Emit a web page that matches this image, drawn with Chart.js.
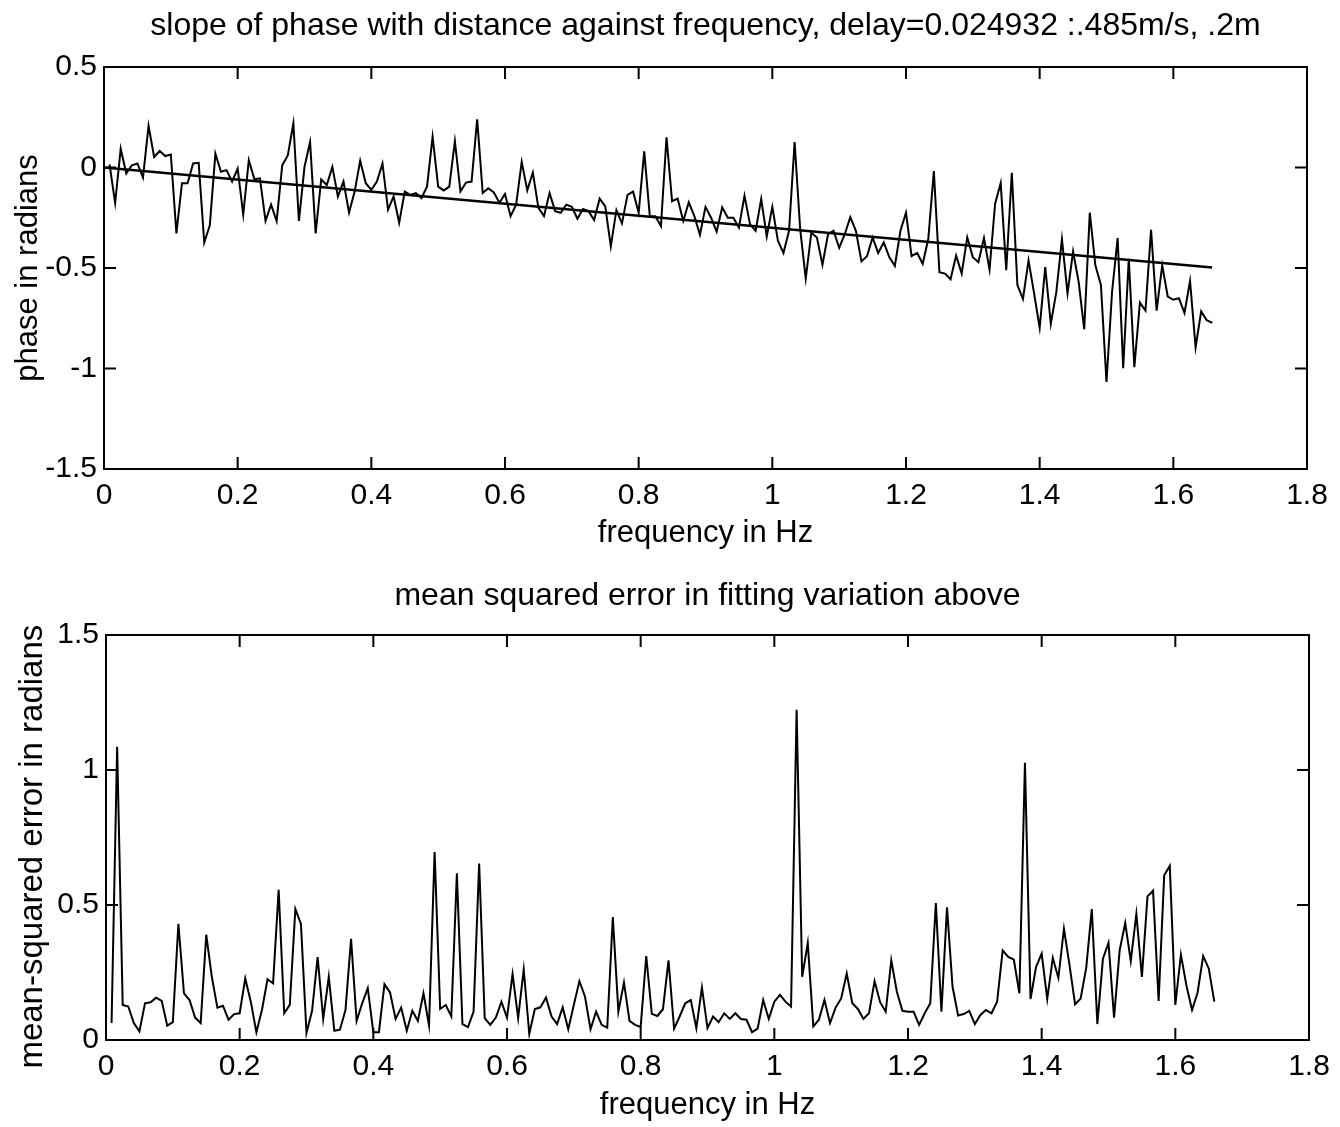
<!DOCTYPE html>
<html>
<head>
<meta charset="utf-8">
<script src="https://cdn.jsdelivr.net/npm/chart.js@4.4.0/dist/chart.umd.min.js"></script>
<style>
html, body { margin: 0; padding: 0; background: #fff; }
.plot { position: absolute; left: 0; width: 1340px; }
#top-plot { top: 0; height: 563px; }
#bottom-plot { top: 563px; height: 564px; }
</style>
</head>
<body>
<div class="plot" id="top-plot"><canvas id="phaseChart"></canvas></div>
<div class="plot" id="bottom-plot"><canvas id="mseChart"></canvas></div>
<script>
// frequency bins are spaced 1/120 Hz, first bin at 1/120
const freqStep = 1 / 120;

// phase (radians)
const phaseRad = [
  0.015, -0.176, 0.093, -0.03, 0.011, 0.02, -0.05, 0.207, 0.052, 0.082,
  0.057, 0.065, -0.328, -0.078, -0.078, 0.02, 0.023, -0.373, -0.288, 0.069,
  -0.021, -0.013, -0.07, -0.005, -0.234, 0.036, -0.059, -0.054, -0.266, -0.185,
  -0.266, 0.011, 0.06, 0.219, -0.266, 0.003, 0.126, -0.328, -0.059, -0.087,
  0.003, -0.144, -0.07, -0.225, -0.12, 0.033, -0.078, -0.111, -0.07, 0.02,
  -0.21, -0.144, -0.275, -0.12, -0.136, -0.127, -0.152, -0.095, 0.153, -0.095,
  -0.114, -0.095, 0.131, -0.12, -0.075, -0.07, 0.24, -0.127, -0.103, -0.124,
  -0.176, -0.132, -0.242, -0.185, 0.028, -0.114, -0.025, -0.201, -0.242, -0.127,
  -0.217, -0.225, -0.185, -0.196, -0.255, -0.206, -0.217, -0.261, -0.155, -0.193,
  -0.392, -0.212, -0.278, -0.136, -0.12, -0.225, 0.08, -0.242, -0.242, -0.291,
  0.15, -0.168, -0.155, -0.266, -0.173, -0.242, -0.335, -0.196, -0.25, -0.319,
  -0.198, -0.25, -0.25, -0.299, -0.141, -0.283, -0.315, -0.157, -0.343, -0.196,
  -0.364, -0.425, -0.315, 0.126, -0.307, -0.553, -0.324, -0.348, -0.484, -0.332,
  -0.315, -0.4, -0.332, -0.247, -0.315, -0.467, -0.441, -0.348, -0.425, -0.373,
  -0.446, -0.49, -0.315, -0.225, -0.441, -0.425, -0.479, -0.356, -0.018, -0.521,
  -0.528,
  -0.556, -0.438, -0.528, -0.348, -0.446, -0.471, -0.351, -0.508, -0.18, -0.078,
  -0.511, -0.026, -0.585, -0.654, -0.462, -0.626, -0.797, -0.495, -0.778, -0.618,
  -0.356, -0.626, -0.418, -0.569, -0.805, -0.225, -0.487, -0.585, -1.067, -0.618,
  -0.351, -0.998, -0.454, -0.993, -0.672, -0.712, -0.31, -0.712, -0.487, -0.642,
  -0.658, -0.65, -0.724, -0.565, -0.895, -0.716, -0.76, -0.773
];

// straight-line fit through the phase, end points
const fitFreq = [0, 1.658];
const fitPhase = [0, -0.497];

// mean-squared error
const mseRad = [
  0.063, 1.086, 0.13, 0.124, 0.063, 0.032, 0.136, 0.14, 0.157, 0.145,
  0.053, 0.066, 0.43, 0.173, 0.148, 0.083, 0.063, 0.39, 0.234, 0.12,
  0.127, 0.075, 0.096, 0.099, 0.228, 0.142, 0.029, 0.111, 0.225, 0.21,
  0.556, 0.099, 0.13, 0.485, 0.43, 0.026, 0.108, 0.307, 0.078, 0.234,
  0.034, 0.038, 0.111, 0.375, 0.071, 0.136, 0.192, 0.029, 0.029,
  0.206, 0.176, 0.078, 0.12, 0.034, 0.108, 0.071, 0.173, 0.054, 0.696,
  0.115, 0.13, 0.087, 0.617, 0.059, 0.048, 0.105, 0.654, 0.081, 0.056,
  0.083, 0.142, 0.083, 0.244, 0.081, 0.261, 0.023, 0.115, 0.121, 0.157,
  0.087, 0.059, 0.121, 0.04, 0.13, 0.218, 0.161, 0.04, 0.105, 0.056,
  0.046, 0.455, 0.105, 0.213, 0.071, 0.056, 0.048, 0.311, 0.097, 0.089,
  0.114,
  0.295, 0.042, 0.087, 0.136, 0.148, 0.044, 0.194, 0.044, 0.087, 0.066,
  0.099, 0.078, 0.099, 0.078, 0.075, 0.029, 0.042, 0.148, 0.078, 0.142,
  0.167, 0.142, 0.124, 1.223, 0.234, 0.359, 0.05, 0.075, 0.148, 0.0625,
  0.12, 0.154, 0.246, 0.136, 0.115, 0.078, 0.099, 0.218, 0.14, 0.105,
  0.295, 0.179, 0.108, 0.105, 0.105, 0.056, 0.099, 0.136, 0.507, 0.105,
  0.491, 0.197, 0.091, 0.096, 0.108, 0.059, 0.093, 0.111, 0.099, 0.142,
  0.332, 0.308, 0.298, 0.173, 1.027, 0.152, 0.271, 0.32, 0.152, 0.304,
  0.23, 0.412, 0.277, 0.132, 0.154, 0.267, 0.485, 0.059, 0.301, 0.36,
  0.083, 0.332, 0.433, 0.292, 0.467, 0.234, 0.532, 0.553, 0.145, 0.61,
  0.645, 0.13, 0.316, 0.201, 0.111, 0.176, 0.311, 0.265, 0.142
];

// axis ranges / ticks
const freqTicks = { min: 0, max: 1.8, step: 0.2 };
const phaseTicks = { min: -1.5, max: 0.5, step: 0.5 };
const mseTicks = { min: 0, max: 1.5, step: 0.5 };

const toPoints = (vals) => vals.map((v, i) => ({ x: (i + 1) * freqStep, y: v }));

Chart.defaults.font.family = '"Liberation Sans", Arial, Helvetica, sans-serif';
Chart.defaults.color = '#000';

// MATLAB style box with inward ticks on all four sides
const matlabBox = {
  id: 'matlabBox',
  afterDatasetsDraw(chart) {
    const { ctx, chartArea: a, scales } = chart;
    const len = 12;
    ctx.save();
    ctx.strokeStyle = '#000';
    ctx.lineWidth = 2;
    ctx.strokeRect(a.left, a.top, a.right - a.left, a.bottom - a.top);
    ctx.beginPath();
    scales.x.ticks.forEach(t => {
      const px = scales.x.getPixelForValue(t.value);
      ctx.moveTo(px, a.bottom); ctx.lineTo(px, a.bottom - len);
      ctx.moveTo(px, a.top); ctx.lineTo(px, a.top + len);
    });
    scales.y.ticks.forEach(t => {
      const py = scales.y.getPixelForValue(t.value);
      ctx.moveTo(a.left, py); ctx.lineTo(a.left + len, py);
      ctx.moveTo(a.right, py); ctx.lineTo(a.right - len, py);
    });
    ctx.stroke();
    ctx.restore();
  }
};

const fmt = v => String(Math.round(v * 10) / 10);

function makeConfig(datasets, yRange, o) {
  return {
    type: 'line',
    data: { datasets: datasets },
    options: {
      responsive: true,
      maintainAspectRatio: false,
      devicePixelRatio: 1,
      animation: false,
      layout: { padding: { left: 0, right: o.right, top: 0, bottom: 0 } },
      plugins: {
        legend: { display: false },
        tooltip: { enabled: false },
        title: {
          display: true,
          fullSize: false,  // centre over the plot box, like matlab
          text: o.title,
          font: { size: 32, weight: 'normal' },
          color: '#000',
          padding: { top: o.titleTop, bottom: o.titleBottom }
        }
      },
      elements: { point: { radius: 0 }, line: { tension: 0 } },
      scales: {
        x: {
          type: 'linear',
          min: freqTicks.min,
          max: freqTicks.max,
          grid: { display: false, drawTicks: false },
          border: { display: false },
          ticks: { stepSize: freqTicks.step, padding: 9, font: { size: 30 }, callback: fmt, maxRotation: 0 },
          title: { display: true, text: 'frequency in Hz', font: { size: 31 }, padding: { top: 0, bottom: o.xTitleBottom } },
          afterFit: s => { s.height = o.xHeight; }
        },
        y: {
          min: yRange.min,
          max: yRange.max,
          grid: { display: false, drawTicks: false },
          border: { display: false },
          ticks: { stepSize: yRange.step, padding: 7, font: { size: 30 }, callback: fmt },
          title: { display: true, text: o.yTitle, font: { size: o.yTitleSize }, padding: { top: o.yTitleTop, bottom: 0 } },
          afterFit: s => { s.width = o.yWidth; }
        }
      }
    },
    plugins: [matlabBox]
  };
}

// phase against frequency, with the fitted line
let phaseCtx = document.getElementById('phaseChart');
let phaseChart = new Chart(phaseCtx, makeConfig([
  { data: toPoints(phaseRad), borderColor: '#000', borderWidth: 2 },
  { data: fitFreq.map((f, i) => ({ x: f, y: fitPhase[i] })), borderColor: '#000', borderWidth: 2.5 }
], phaseTicks, {
  title: 'slope of phase with distance against frequency, delay=0.024932 :.485m/s, .2m',
  titleTop: 7, titleBottom: 21.6,
  yTitle: 'phase in radians', yTitleSize: 31, yTitleTop: 10,
  right: 33, yWidth: 104, xHeight: 94, xTitleBottom: 11
}));

// mean squared error
let mseCtx = document.getElementById('mseChart');
let mseChart = new Chart(mseCtx, makeConfig([
  { data: toPoints(mseRad), borderColor: '#000', borderWidth: 2 }
], mseTicks, {
  title: 'mean squared error in fitting variation above',
  titleTop: 14, titleBottom: 19.6,
  yTitle: 'mean-squared error in radians  ', yTitleSize: 33, yTitleTop: 13,
  right: 31, yWidth: 106, xHeight: 87, xTitleBottom: 3
}));
</script>
</body>
</html>
